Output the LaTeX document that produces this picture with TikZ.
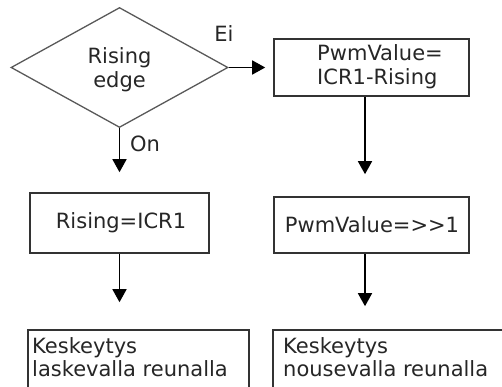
\documentclass[tikz,border=0pt]{standalone}
\usepackage{fontspec}
\setmainfont{DejaVu Sans}
\usetikzlibrary{shapes.geometric,arrows.meta}

\tikzset{
  txt/.style={font=\fontsize{21}{23.5}\selectfont, text=black!85, inner sep=0pt},
  box/.style={draw=black!80, line width=1.6pt, rectangle, inner sep=0pt},
  decision/.style={draw=black!65, line width=1.3pt, diamond, inner sep=0pt,
    minimum width=217pt, minimum height=120pt},
  arr/.style={draw=black, line width=1.6pt,
    -{Triangle[length=13pt,width=14pt]}},
  lbl/.style={txt}
}

\begin{document}
\begin{tikzpicture}[x=1pt,y=-1pt]
\useasboundingbox (0,0) rectangle (502,387);

% decision
\node[decision] (d) at (119.5,67.5) {};
\node[txt, align=center] (dtext) at (119.5,69.5) {Rising\\edge};

% right branch
\node[box, minimum width=195pt, minimum height=57pt] (b1) at (371.5,67.5) {};
\node[txt, align=left, anchor=west] (b1text) at (317,66.5) {PwmValue=\\ICR1-Rising};
\node[box, minimum width=195pt, minimum height=56pt] (b2) at (371.5,225) {};
\node[txt] (b2text) at (372,225) {PwmValue=>\kern0pt>1};
\node[box, minimum width=237pt, minimum height=65pt] (b4) at (391.5,362.5) {};
\node[txt, align=left, anchor=north west] (b4text) at (283,337) {Keskeytys\\nousevalla reunalla};

% left branch
\node[box, minimum width=179pt, minimum height=60pt] (b3) at (119.5,223) {};
\node[txt] (b3text) at (121,223) {Rising=ICR1};
\node[box, minimum width=221pt, minimum height=65pt] (b5) at (138.5,362.5) {};
\node[txt, align=left, anchor=north west] (b5text) at (32,337) {Keskeytys\\laskevalla reunalla};

% connectors
\draw[arr, shorten >=8pt] (d.east) -- (b1.west);
\node[lbl] (ei) at (224,34) {Ei};
\draw[arr, shorten >=20pt] (d.south) -- (d.south |- b3.north);
\node[lbl] (on) at (145,144) {On};
\draw[arr, shorten >=27pt] (b3.south) -- (b3.south |- b5.north);
\draw[arr, shorten >=22pt] ([xshift=-6.5pt]b1.south) -- ([xshift=-6.5pt]b2.north);
\draw[arr, shorten >=23pt] ([xshift=-6.5pt]b2.south) -- ([xshift=-6.5pt]b2.south |- b4.north);
\end{tikzpicture}
\end{document}
